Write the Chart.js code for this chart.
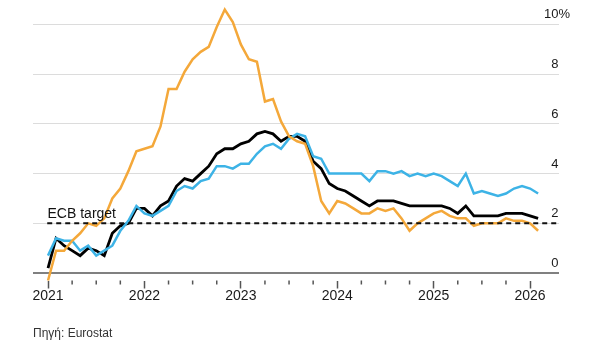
<!DOCTYPE html>
<html>
<head>
<meta charset="utf-8">
<script src="https://cdn.jsdelivr.net/npm/chart.js@4.4.1/dist/chart.umd.min.js"></script>
<style>
  html, body { margin: 0; padding: 0; background: #fff; }
  #wrap { position: relative; width: 601px; height: 354px; }
</style>
</head>
<body>
<div id="wrap"><canvas id="inflationChart" width="601" height="354"></canvas></div>
<script>
// monthly, Dec 2020 .. Jan 2026 (index 0 = Dec 2020)
const headline = [
  -0.3,
  0.9, 0.9, 1.3, 1.6, 2.0, 1.9, 2.2, 3.0, 3.4, 4.1, 4.9, 5.0,
  5.1, 5.9, 7.4, 7.4, 8.1, 8.6, 8.9, 9.1, 9.9, 10.6, 10.1, 9.2,
  8.6, 8.5, 6.9, 7.0, 6.1, 5.5, 5.3, 5.2, 4.3, 2.9, 2.4, 2.9,
  2.8, 2.6, 2.4, 2.4, 2.6, 2.5, 2.6, 2.2, 1.7, 2.0, 2.2, 2.4,
  2.5, 2.3, 2.2, 2.2, 1.9, 2.0, 2.0, 2.0, 2.2, 2.1, 2.1, 2.0,
  1.7
];
const core = [
  0.2,
  1.4, 1.1, 0.9, 0.7, 1.0, 0.9, 0.7, 1.6, 1.9, 2.0, 2.6, 2.6,
  2.3, 2.7, 2.9, 3.5, 3.8, 3.7, 4.0, 4.3, 4.8, 5.0, 5.0, 5.2,
  5.3, 5.6, 5.7, 5.6, 5.3, 5.5, 5.5, 5.3, 4.5, 4.2, 3.6, 3.4,
  3.3, 3.1, 2.9, 2.7, 2.9, 2.9, 2.9, 2.8, 2.7, 2.7, 2.7, 2.7,
  2.7, 2.6, 2.4, 2.7, 2.3, 2.3, 2.3, 2.3, 2.4, 2.4, 2.4, 2.3,
  2.2
];
const services = [
  0.7,
  1.4, 1.3, 1.3, 0.9, 1.1, 0.7, 0.9, 1.1, 1.7, 2.1, 2.7, 2.4,
  2.3, 2.5, 2.7, 3.3, 3.5, 3.4, 3.7, 3.8, 4.3, 4.3, 4.2, 4.4,
  4.4, 4.8, 5.1, 5.2, 5.0, 5.4, 5.6, 5.5, 4.7, 4.6, 4.0, 4.0,
  4.0, 4.0, 4.0, 3.7, 4.1, 4.1, 4.0, 4.1, 3.9, 4.0, 3.9, 4.0,
  3.9, 3.7, 3.5, 4.0, 3.2, 3.3, 3.2, 3.1, 3.2, 3.4, 3.5, 3.4,
  3.2
];
const yearLabels = ['2021', '2022', '2023', '2024', '2025', '2026'];
const yTicks = [0, 2, 4, 6, 8, 10];
const ecbTarget = 2;

const toPoints = arr => arr.map((v, i) => ({ x: i, y: v }));
const FONT = '"Liberation Sans", Arial, sans-serif';

const labelsPlugin = {
  id: 'labelsPlugin',
  afterDraw(chart) {
    const ctx = chart.ctx;
    const y = chart.scales.y;
    const x = chart.scales.x;
    ctx.save();
    // quarterly minor ticks (shorter than the year ticks)
    ctx.strokeStyle = '#555';
    ctx.lineWidth = 1.5;
    x.ticks.forEach(t => {
      if (t.value % 12 === 0) return;
      const px = x.getPixelForValue(t.value);
      ctx.beginPath();
      ctx.moveTo(px, chart.chartArea.bottom);
      ctx.lineTo(px, chart.chartArea.bottom + 4);
      ctx.stroke();
    });
    ctx.fillStyle = '#1a1a1a';
    ctx.font = '13px ' + FONT;
    ctx.textBaseline = 'alphabetic';
    yTicks.forEach(v => {
      const py = y.getPixelForValue(v) - 6;
      ctx.textAlign = 'right';
      ctx.fillText(String(v), 558.5, py);
      if (v === 10) {
        ctx.textAlign = 'left';
        ctx.fillText('%', 558.5, py);
      }
    });
    // ECB target label
    ctx.font = '14px ' + FONT;
    ctx.textAlign = 'left';
    ctx.fillStyle = '#111';
    ctx.fillText('ECB target', x.getPixelForValue(0) - 0.5, y.getPixelForValue(ecbTarget) - 5);
    // source
    ctx.font = '12px ' + FONT;
    ctx.fillStyle = '#333';
    ctx.fillText('Πηγή: Eurostat', 33, 337);
    ctx.restore();
  }
};

const line = (data, color, width) => ({
  data: toPoints(data),
  borderColor: color,
  borderWidth: width,
  pointRadius: 0,
  tension: 0,
  clip: false,
  borderJoinStyle: 'miter'
});

new Chart(document.getElementById('inflationChart'), {
  type: 'line',
  data: {
    datasets: [
      {
        data: [{ x: -0.1, y: ecbTarget }, { x: 63.6, y: ecbTarget }],
        borderColor: '#111',
        borderWidth: 2,
        borderDash: [5, 4],
        pointRadius: 0
      },
      line(headline, '#f4a83a', 2.5),
      line(services, '#3db3e6', 2.5),
      line(core, '#000000', 2.8)
    ]
  },
  options: {
    responsive: false,
    animation: false,
    layout: { padding: { left: 33, right: 42, top: 4.6, bottom: 50.7 } },
    plugins: { legend: { display: false }, tooltip: { enabled: false } },
    scales: {
      x: {
        type: 'linear',
        min: -1.87,
        max: 63.6,
        afterBuildTicks: s => { s.ticks = []; for (let i = 0; i <= 61; i += 3) s.ticks.push({ value: i }); },
        ticks: {
          autoSkip: false,
          maxRotation: 0,
          padding: -1,
          color: '#1a1a1a',
          font: { family: FONT, size: 14 },
          callback: v => (v % 12 === 0 ? yearLabels[v / 12] : '')
        },
        grid: {
          drawOnChartArea: false,
          drawTicks: true,
          tickLength: 8,
          tickColor: c => (c.tick && c.tick.value % 12 === 0 ? '#555' : 'rgba(0,0,0,0)'),
          tickWidth: 1.5
        },
        border: { display: false }
      },
      y: {
        position: 'right',
        min: -0.3,
        max: 10.8,
        afterBuildTicks: s => { s.ticks = yTicks.map(v => ({ value: v })); },
        ticks: { display: false },
        grid: {
          drawTicks: false,
          color: c => (c.tick && c.tick.value === 0 ? '#808080' : '#dcdcdc'),
          lineWidth: c => (c.tick && c.tick.value === 0 ? 2 : 1)
        },
        border: { display: false }
      }
    }
  },
  plugins: [labelsPlugin]
});
</script>
</body>
</html>
